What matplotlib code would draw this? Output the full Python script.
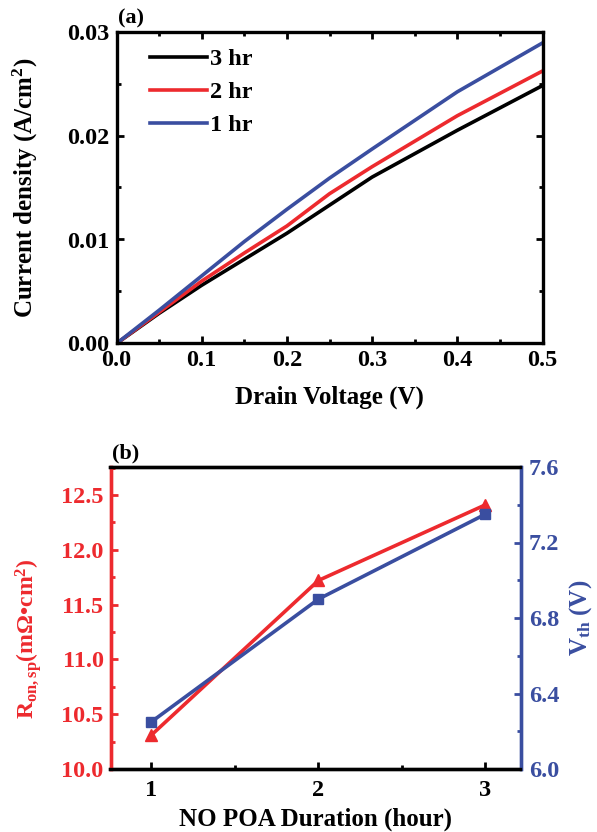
import matplotlib
matplotlib.use("Agg")
import matplotlib.pyplot as plt
from matplotlib.ticker import MultipleLocator, FormatStrFormatter

plt.rcParams['font.family'] = ['Liberation Serif', 'DejaVu Serif']
plt.rcParams['font.weight'] = 'bold'
plt.rcParams['mathtext.fontset'] = 'custom'
plt.rcParams['mathtext.rm'] = 'Liberation Serif:bold'
plt.rcParams['mathtext.it'] = 'Liberation Serif:bold'
plt.rcParams['mathtext.bf'] = 'Liberation Serif:bold'

# ---- data (a) ----
voltage = [0.0, 0.05, 0.1, 0.15, 0.2, 0.25, 0.3, 0.4, 0.5]
j_3hr = [0.0, 0.0029, 0.0056, 0.0081, 0.0106, 0.0133, 0.0160, 0.0205, 0.0248]
j_2hr = [0.0, 0.0030, 0.0060, 0.0087, 0.0113, 0.0144, 0.0170, 0.0219, 0.0262]
j_1hr = [0.0, 0.0032, 0.0065, 0.0098, 0.0129, 0.0159, 0.0187, 0.0242, 0.0289]
series_labels = ['3 hr', '2 hr', '1 hr']

# ---- data (b) ----
duration = [1, 2, 3]
ron = [10.31, 11.72, 12.41]
vth = [6.25, 6.90, 7.35]

RED = '#ED2A2E'
BLUE = '#3A4EA0'
FS = 17.5
LFS = 18

fig = plt.figure(figsize=(5.97, 8.32), dpi=100)
W, H = 597, 832

def axrect(l, t, r, b):
    return [l / W, 1 - b / H, (r - l) / W, (b - t) / H]

# ---------- (a) ----------
ax1 = fig.add_axes(axrect(116.5, 31.5, 542.5, 343.5))
ax1.plot(voltage, j_3hr, color='black', lw=2.6, label=series_labels[0])
ax1.plot(voltage, j_2hr, color=RED, lw=2.6, label=series_labels[1])
ax1.plot(voltage, j_1hr, color=BLUE, lw=2.6, label=series_labels[2])
ax1.set_xlim(0, 0.5)
ax1.set_ylim(0, 0.03)
ax1.xaxis.set_major_locator(MultipleLocator(0.1))
ax1.xaxis.set_minor_locator(MultipleLocator(0.05))
ax1.yaxis.set_major_locator(MultipleLocator(0.01))
ax1.yaxis.set_minor_locator(MultipleLocator(0.005))
ax1.xaxis.set_major_formatter(FormatStrFormatter('%.1f'))
ax1.yaxis.set_major_formatter(FormatStrFormatter('%.2f'))
for s in ax1.spines.values():
    s.set_linewidth(2.4)
ax1.tick_params(which='both', direction='in', top=True, right=True, width=2, labelsize=FS)
ax1.tick_params(which='major', length=5, pad=5)
ax1.tick_params(which='minor', length=3)
ax1.set_xlabel('Drain Voltage (V)', fontsize=LFS, fontweight='bold', labelpad=10)
ax1.set_ylabel('Current density (A/cm$^2$)', fontsize=LFS, fontweight='bold')
ax1.yaxis.set_label_coords(-0.18, 0.5)
leg = ax1.legend(loc='upper left', bbox_to_anchor=(0.055, 0.977), frameon=False,
                 fontsize=FS, handlelength=2.35, handletextpad=0.15, labelspacing=0.45,
                 borderaxespad=0)
ax1.text(0.003, 1.01, '(a)', transform=ax1.transAxes, fontsize=16, fontweight='bold',
         ha='left', va='bottom')

# ---------- (b) ----------
ax2 = fig.add_axes(axrect(110.5, 467, 520.5, 769))
ax3 = ax2.twinx()
ax2.plot(duration, ron, color=RED, lw=2.6, marker='^', markersize=9, zorder=3)
ax3.plot(duration, vth, color=BLUE, lw=2.6, marker='s', markersize=7.5, zorder=3)
ax2.set_xlim(0.755, 3.21)
ax2.set_ylim(10.0, 12.755)
ax3.set_ylim(6.0, 7.6)
ax2.xaxis.set_major_locator(MultipleLocator(1))
ax2.xaxis.set_minor_locator(MultipleLocator(0.5))
ax2.yaxis.set_major_locator(MultipleLocator(0.5))
ax2.yaxis.set_minor_locator(MultipleLocator(0.25))
ax3.yaxis.set_major_locator(MultipleLocator(0.4))
ax3.yaxis.set_minor_locator(MultipleLocator(0.2))
ax2.yaxis.set_major_formatter(FormatStrFormatter('%.1f'))
ax3.yaxis.set_major_formatter(FormatStrFormatter('%.1f'))
for a in (ax2, ax3):
    for s in a.spines.values():
        s.set_linewidth(2.4)
    a.spines['left'].set_color(RED)
    a.spines['right'].set_color(BLUE)
ax2.tick_params(axis='x', which='both', direction='in', width=2, labelsize=FS, top=False)
ax2.tick_params(axis='x', which='major', length=5, pad=8)
ax2.tick_params(axis='x', which='minor', length=3)
ax2.tick_params(axis='y', which='both', direction='in', width=2, colors=RED, labelsize=FS)
ax2.tick_params(axis='y', which='major', length=5, pad=5)
ax2.tick_params(axis='y', which='minor', length=3)
ax3.tick_params(axis='y', which='both', direction='in', width=2, colors=BLUE, labelsize=FS)
ax3.tick_params(axis='y', which='major', length=5, pad=6)
ax3.tick_params(axis='y', which='minor', length=3)
ax2.set_xlabel('NO POA Duration (hour)', fontsize=LFS, fontweight='bold', labelpad=5)
ax2.set_ylabel('R$_{\\mathregular{on,sp}}$(mΩ•cm$^2$)', fontsize=17, fontweight='bold',
               color=RED)
ax2.yaxis.set_label_coords(-0.162, 0.432)
ax3.set_ylabel('V$_{\\mathregular{th}}$ (V)', fontsize=LFS, fontweight='bold', color=BLUE)
ax3.yaxis.set_label_coords(1.113, 0.5)
ax2.text(0.003, 1.01, '(b)', transform=ax2.transAxes, fontsize=16, fontweight='bold',
         ha='left', va='bottom')

fig.savefig('out.png', dpi=100)
